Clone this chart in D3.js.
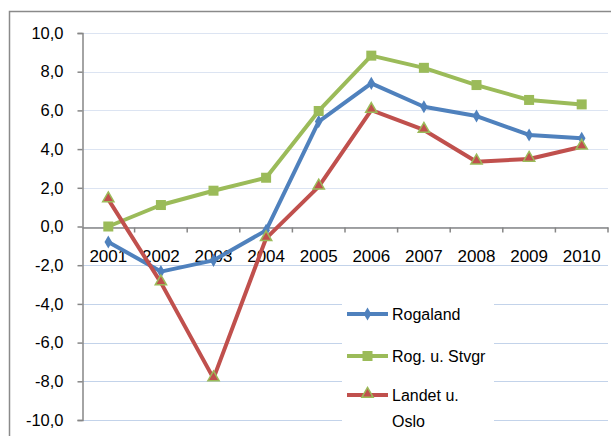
<!DOCTYPE html>
<html>
<head>
<meta charset="utf-8">
<script src="https://cdn.jsdelivr.net/npm/d3@7"></script>
<style>
  body { margin: 0; background: #fff; }
  text { font-family: "Liberation Sans", Arial, sans-serif; fill: #000; }
</style>
</head>
<body>
<script>
var years = ["2001", "2002", "2003", "2004", "2005", "2006", "2007", "2008", "2009", "2010"];
var rogaland = [-0.8, -2.33, -1.75, -0.2, 5.42, 7.4, 6.19, 5.71, 4.73, 4.56];
var rogStvgr = [0.0, 1.11, 1.85, 2.52, 5.97, 8.83, 8.2, 7.31, 6.54, 6.31];
var landetOslo = [1.4, -2.9, -7.85, -0.61, 2.06, 6.02, 4.99, 3.35, 3.49, 4.12];
var yTicks = [-10, -8, -6, -4, -2, 0, 2, 4, 6, 8, 10];

var series = [
    {name: ["Rogaland"], values: rogaland, color: "#4f81bd", marker: "diamond"},
    {name: ["Rog. u. Stvgr"], values: rogStvgr, color: "#9bbb59", marker: "square"},
    {name: ["Landet u.", "Oslo"], values: landetOslo, color: "#c0504d", marker: "triangle"}
];

var width = 611, height = 436;

var svg = d3.select("body").append("svg")
    .attr("width", width)
    .attr("height", height);

// chart frame (runs off the right and bottom edges)
svg.append("rect")
    .attr("x", 9.5).attr("y", 11.5)
    .attr("width", 620).attr("height", 440)
    .attr("fill", "#fff")
    .attr("stroke", "#8a8a8a")
    .attr("stroke-width", 1.5);

var x = d3.scaleBand()
    .domain(years)
    .range([82, 608]);

var y = d3.scaleLinear()
    .domain([-10, 10])
    .range([420, 33]);

var fmt = function(d) { return d3.format(".1f")(d).replace(".", ",").replace("−", "-"); };

// gridlines
svg.append("g").selectAll("line")
    .data(yTicks)
    .enter().append("line")
    .attr("x1", 82).attr("x2", 608)
    .attr("y1", function(d) { return Math.round(y(d)) + 0.5; })
    .attr("y2", function(d) { return Math.round(y(d)) + 0.5; })
    .attr("stroke", function(d) { return d < 0 ? "#c3d3ea" : "#dce4f2"; })
    .attr("stroke-width", 1.2);

// y axis
var yAxis = svg.append("g")
    .attr("transform", "translate(82.5,0)")
    .call(d3.axisLeft(y).tickValues(yTicks).tickFormat(fmt).tickSize(5).tickPadding(14));
yAxis.select(".domain").attr("stroke", "#868686").attr("stroke-width", 1.5);
yAxis.selectAll(".tick line").attr("stroke", "#868686").attr("stroke-width", 1.5);
yAxis.selectAll("text").attr("font-size", "16.5px").attr("fill", "#000")
    .attr("font-family", "Liberation Sans, Arial, sans-serif");

// x axis at zero
var xAxis = svg.append("g")
    .attr("transform", "translate(0," + (Math.round(y(0)) + 0.5) + ")")
    .call(d3.axisBottom(x).tickSize(0).tickSizeOuter(0).tickPadding(22));
xAxis.select(".domain").attr("stroke", "#868686").attr("stroke-width", 1.5);
xAxis.selectAll("text").attr("font-size", "17px").attr("fill", "#000")
    .attr("font-family", "Liberation Sans, Arial, sans-serif");
xAxis.append("g").selectAll("line")
    .data(years.slice(1).concat(["end"]))
    .enter().append("line")
    .attr("x1", function(d, i) { return x(years[i]) + x.bandwidth(); })
    .attr("x2", function(d, i) { return x(years[i]) + x.bandwidth(); })
    .attr("y1", 0).attr("y2", 5)
    .attr("stroke", "#868686").attr("stroke-width", 1.5);

var cx = function(d, i) { return x(years[i]) + x.bandwidth() / 2; };

var line = d3.line()
    .x(function(d, i) { return cx(d, i); })
    .y(function(d) { return y(d); });

function drawMarker(g, s, px, py) {
    if (s.marker === "diamond") {
        g.append("path")
            .attr("d", d3.symbol(d3.symbolDiamond, 50)())
            .attr("transform", "translate(" + px + "," + py + ")")
            .attr("fill", s.color);
    } else if (s.marker === "square") {
        g.append("rect")
            .attr("x", px - 5).attr("y", py - 5)
            .attr("width", 10).attr("height", 10)
            .attr("fill", s.color);
    } else {
        g.append("path")
            .attr("d", d3.symbol(d3.symbolTriangle, 55)())
            .attr("transform", "translate(" + px + "," + (py - 1) + ")")
            .attr("fill", s.color)
            .attr("stroke", "#9bbb59")
            .attr("stroke-width", 1.5);
    }
}

series.forEach(function(s) {
    var g = svg.append("g");
    g.append("path")
        .datum(s.values)
        .attr("d", line)
        .attr("fill", "none")
        .attr("stroke", s.color)
        .attr("stroke-width", 4)
        .attr("stroke-linejoin", "round");
    s.values.forEach(function(v, i) {
        drawMarker(g, s, cx(v, i), y(v));
    });
});

// legend
var legend = svg.append("g");
legend.append("rect")
    .attr("x", 342).attr("y", 303)
    .attr("width", 152).attr("height", 140)
    .attr("fill", "#fff");

var legendY = [314, 356, 395];
series.forEach(function(s, i) {
    var ly = legendY[i];
    legend.append("line")
        .attr("x1", 347).attr("x2", 388)
        .attr("y1", ly).attr("y2", ly)
        .attr("stroke", s.color)
        .attr("stroke-width", 4);
    drawMarker(legend, s, 367.5, ly);
    s.name.forEach(function(t, j) {
        legend.append("text")
            .attr("x", 392)
            .attr("y", ly + 6 + j * 26)
            .attr("font-size", "16px")
            .text(t);
    });
});
</script>
</body>
</html>
